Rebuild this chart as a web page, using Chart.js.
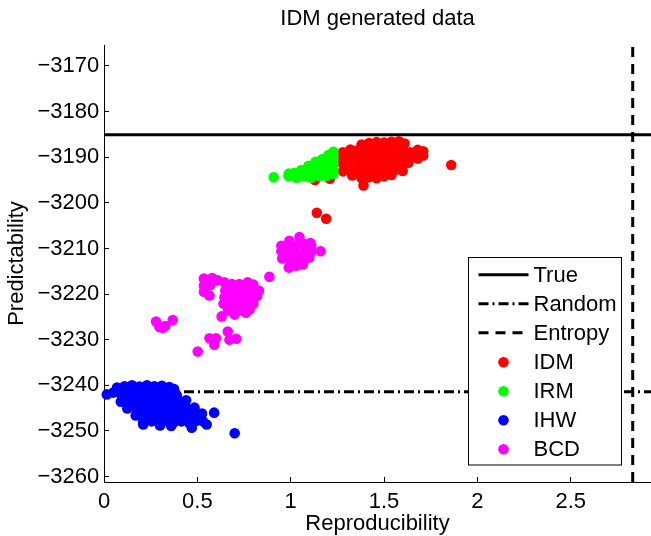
<!DOCTYPE html>
<html>
<head>
<meta charset="utf-8">
<script src="https://cdn.jsdelivr.net/npm/chart.js@4/dist/chart.umd.min.js"></script>
<style>
  html, body { margin: 0; padding: 0; background: #fff; }
</style>
</head>
<body>
<canvas id="c" width="651" height="536"></canvas>
<script>
// Axis ranges and tick marks
const xRange = [0, 2.93];
const yRange = [-3261.2, -3165.4];
const xTicks = [0, 0.5, 1, 1.5, 2, 2.5];
const yTicks = [-3260, -3250, -3240, -3230, -3220, -3210, -3200, -3190, -3180, -3170];

// Reference levels
const trueLevel = -3185.1;     // predictability of the true partition
const randomLevel = -3241.4;   // predictability of a random partition
const entropyLevel = 2.832;    // entropy bound on reproducibility

// Samples: [reproducibility, predictability]
const idm = [
  [1.38,-3187.2],[1.42,-3186.9],[1.46,-3186.7],[1.50,-3186.8],[1.54,-3186.6],[1.58,-3186.5],[1.61,-3187.0],
  [1.28,-3188.9],[1.32,-3188.3],[1.36,-3188.5],[1.40,-3188.2],[1.44,-3188.6],[1.48,-3188.3],[1.52,-3188.5],
  [1.56,-3188.2],[1.60,-3188.6],[1.64,-3188.9],[1.68,-3188.4],[1.71,-3188.7],
  [1.28,-3190.1],[1.32,-3189.8],[1.36,-3190.0],[1.40,-3189.7],[1.44,-3190.1],[1.48,-3189.8],[1.52,-3190.0],
  [1.56,-3189.7],[1.60,-3190.1],[1.64,-3189.9],[1.68,-3190.3],[1.71,-3189.6],
  [1.28,-3191.4],[1.32,-3191.7],[1.36,-3191.3],[1.40,-3191.6],[1.44,-3191.4],[1.48,-3191.7],[1.52,-3191.3],
  [1.56,-3191.6],[1.60,-3191.4],[1.63,-3191.2],
  [1.28,-3193.1],[1.32,-3192.8],[1.36,-3193.2],[1.40,-3192.9],[1.44,-3193.3],[1.48,-3192.9],[1.52,-3193.2],
  [1.56,-3192.8],[1.60,-3193.0],
  [1.33,-3194.0],[1.38,-3194.6],[1.42,-3194.4],[1.46,-3194.6],[1.50,-3194.2],[1.54,-3193.9],
  [1.39,-3196.2],[1.86,-3191.7],[1.14,-3202.2],[1.19,-3203.5],[1.13,-3195.0],[1.21,-3194.7]
];

const irm = [
  [0.909,-3194.4],[0.99,-3193.6],[0.988,-3194.1],[1.020,-3193.4],[1.031,-3194.5],[1.057,-3192.8],[1.068,-3194.1],
  [1.079,-3194.2],[1.095,-3191.9],[1.100,-3193.2],[1.111,-3194.5],[1.133,-3191.0],[1.138,-3192.4],[1.143,-3193.7],
  [1.154,-3194.1],[1.170,-3190.4],[1.175,-3191.7],[1.181,-3193.0],[1.191,-3194.1],[1.202,-3189.5],[1.207,-3190.8],
  [1.213,-3192.1],[1.218,-3193.4],[1.229,-3188.8],[1.229,-3190.2],[1.229,-3191.5],[1.229,-3192.8],[1.229,-3193.7]
];

const ihw = [
  [0.07,-3240.5],[0.11,-3240.2],[0.15,-3240.0],[0.19,-3240.3],[0.23,-3240.0],[0.27,-3240.2],[0.31,-3240.1],
  [0.35,-3240.4],[0.375,-3240.8],
  [0.015,-3242.0],[0.05,-3241.6],[0.09,-3241.9],[0.13,-3241.7],[0.17,-3242.0],[0.21,-3241.7],[0.25,-3241.9],
  [0.29,-3241.6],[0.33,-3241.9],[0.37,-3241.5],[0.39,-3242.2],
  [0.09,-3243.6],[0.13,-3243.2],[0.17,-3243.5],[0.21,-3243.3],[0.25,-3243.6],[0.29,-3243.2],[0.33,-3243.5],
  [0.37,-3243.3],[0.41,-3243.6],[0.44,-3243.3],
  [0.125,-3245.1],[0.165,-3244.8],[0.205,-3245.0],[0.245,-3244.7],[0.285,-3245.1],[0.325,-3244.8],[0.365,-3245.0],
  [0.405,-3244.7],[0.445,-3245.1],[0.485,-3244.9],
  [0.17,-3246.6],[0.215,-3246.3],[0.255,-3246.6],[0.295,-3246.4],[0.335,-3246.7],[0.375,-3246.3],[0.415,-3246.6],
  [0.455,-3246.4],[0.495,-3246.6],[0.525,-3246.2],
  [0.21,-3248.1],[0.255,-3247.9],[0.295,-3248.2],[0.335,-3247.8],[0.375,-3248.1],[0.415,-3247.9],[0.455,-3248.2],
  [0.495,-3247.8],[0.53,-3247.9],
  [0.21,-3248.6],[0.30,-3248.8],[0.36,-3248.9],[0.47,-3249.3],[0.55,-3248.6],
  [0.59,-3246.0],[0.70,-3250.5]
];

const bcd = [
  // upper group
  [0.993,-3208.3],[1.047,-3207.5],[1.106,-3208.8],
  [0.95,-3209.4],[0.99,-3209.0],[1.03,-3209.3],[1.07,-3209.0],[1.11,-3209.4],
  [0.95,-3210.6],[0.99,-3211.0],[1.03,-3210.7],[1.07,-3211.0],[1.11,-3210.6],[1.16,-3210.6],
  [0.955,-3212.2],[0.995,-3212.5],[1.035,-3212.2],[1.075,-3212.5],[1.10,-3212.0],
  [0.99,-3214.2],[1.03,-3213.8],[1.065,-3213.5],
  // middle group
  [0.535,-3216.6],[0.58,-3216.5],[0.535,-3218.2],[0.57,-3218.0],[0.535,-3219.5],[0.565,-3220.3],[0.61,-3217.0],
  [0.645,-3217.4],[0.685,-3217.8],[0.725,-3217.8],[0.77,-3217.4],[0.80,-3217.9],
  [0.65,-3219.2],[0.69,-3218.9],[0.73,-3219.3],[0.77,-3219.0],[0.81,-3219.2],[0.83,-3219.3],
  [0.645,-3220.7],[0.685,-3220.4],[0.725,-3220.8],[0.765,-3220.5],[0.805,-3220.8],[0.82,-3220.4],
  [0.64,-3222.1],[0.68,-3222.4],[0.72,-3222.0],[0.76,-3222.3],[0.80,-3222.1],
  [0.665,-3223.6],[0.705,-3223.9],[0.745,-3223.6],[0.78,-3223.4],
  [0.63,-3224.9],[0.70,-3224.5],[0.76,-3224.1],
  [0.886,-3216.2],
  // small groups lower left
  [0.279,-3226.0],[0.297,-3227.2],[0.314,-3227.4],[0.329,-3227.0],[0.368,-3225.7],
  [0.565,-3229.7],[0.600,-3229.7],[0.591,-3231.1],[0.663,-3228.2],[0.672,-3230.0],[0.708,-3229.8],
  [0.502,-3232.6]
];

const FONT = "'Liberation Sans', Arial, Helvetica, sans-serif";
Chart.defaults.font.family = FONT;
Chart.defaults.font.size = 22;
Chart.defaults.color = '#000';

const toXY = arr => arr.map(([x, y]) => ({ x, y }));
const minusFmt = v => (v < 0 ? '\u2212' + Math.abs(v) : String(v));

function refLine(label, data, dash, order) {
  return {
    label, data, showLine: true, borderColor: '#000', backgroundColor: '#000',
    borderWidth: 3, borderDash: dash, pointRadius: 0, order, fill: false
  };
}
function cloud(label, data, color, order) {
  return {
    label, data: toXY(data), showLine: false, backgroundColor: color, borderColor: color,
    borderWidth: 0, pointRadius: 5.3, pointHoverRadius: 5.3, order, clip: false
  };
}

// Legend box drawn inside the axes, lower right
const insetLegend = {
  id: 'insetLegend',
  afterDatasetsDraw(chart) {
    const { ctx, chartArea: a } = chart;
    const left = a.right - 182.5, top = a.bottom - 224.5, w = 153, h = 207.5;
    ctx.save();
    ctx.fillStyle = '#fff';
    ctx.fillRect(left, top, w, h);
    ctx.strokeStyle = '#000';
    ctx.lineWidth = 1;
    ctx.strokeRect(left, top, w, h);
    chart.data.datasets.forEach((ds, i) => {
      const y = top + 17.7 + i * 29;
      if (ds.showLine) {
        ctx.beginPath();
        ctx.setLineDash(ds.borderDash || []);
        ctx.lineWidth = ds.borderWidth;
        ctx.strokeStyle = ds.borderColor;
        ctx.moveTo(left + 10, y - 0.5);
        ctx.lineTo(left + 60, y - 0.5);
        ctx.stroke();
        ctx.setLineDash([]);
      } else {
        ctx.beginPath();
        ctx.fillStyle = ds.backgroundColor;
        ctx.arc(left + 35, y, 5.3, 0, Math.PI * 2);
        ctx.fill();
      }
      ctx.fillStyle = '#000';
      ctx.font = '22px ' + FONT;
      ctx.textBaseline = 'middle';
      ctx.textAlign = 'left';
      ctx.fillText(ds.label, left + 65, y + 0.5);
    });
    ctx.restore();
  }
};

new Chart(document.getElementById('c'), {
  type: 'scatter',
  data: {
    datasets: [
      refLine('True', [{ x: xRange[0], y: trueLevel }, { x: xRange[1], y: trueLevel }], [], 6),
      refLine('Random', [{ x: xRange[0], y: randomLevel }, { x: xRange[1], y: randomLevel }], [10, 4, 2, 4], 5),
      refLine('Entropy', [{ x: entropyLevel, y: yRange[0] }, { x: entropyLevel, y: yRange[1] }], [10, 7], 4),
      cloud('IDM', idm, '#ff0000', 3),
      cloud('IRM', irm, '#00ff00', 2),
      cloud('IHW', ihw, '#0000ff', 1),
      cloud('BCD', bcd, '#ff00ff', 0)
    ]
  },
  options: {
    responsive: false,
    animation: false,
    events: [],
    layout: { padding: 0, autoPadding: false },
    plugins: {
      legend: { display: false },
      tooltip: { enabled: false },
      title: {
        display: true, text: 'IDM generated data', fullSize: false,
        color: '#000', font: { size: 22, weight: 'normal' },
        padding: { top: 5.8, bottom: 12.8 }
      }
    },
    scales: {
      x: {
        type: 'linear', position: 'bottom', min: xRange[0], max: xRange[1],
        afterBuildTicks: s => { s.ticks = xTicks.map(v => ({ value: v })); },
        afterFit: s => { s.height = 54; s.paddingLeft = 0; s.paddingRight = 0; },
        ticks: { padding: 11.5, autoSkip: false, maxRotation: 0, color: '#000', callback: v => minusFmt(v) },
        grid: { drawOnChartArea: false, drawTicks: true, tickLength: -5, color: '#000', tickColor: '#000', tickWidth: 1 },
        border: { display: true, color: '#000', width: 1 },
        title: { display: true, text: 'Reproducibility', color: '#000', font: { size: 22 }, padding: { top: 0, bottom: -1 } }
      },
      y: {
        type: 'linear', position: 'left', min: yRange[0], max: yRange[1],
        afterBuildTicks: s => { s.ticks = yTicks.map(v => ({ value: v })); },
        afterFit: s => { s.width = 104; s.paddingTop = 0; s.paddingBottom = 0; },
        ticks: { padding: 9.7, autoSkip: false, color: '#000', callback: v => minusFmt(v) },
        grid: { drawOnChartArea: false, drawTicks: true, tickLength: -5, color: '#000', tickColor: '#000', tickWidth: 1 },
        border: { display: true, color: '#000', width: 1 },
        title: { display: true, text: 'Predictability', color: '#000', font: { size: 22 }, padding: { top: 3.8, bottom: 0 } }
      }
    }
  },
  plugins: [insetLegend]
});
</script>
</body>
</html>
